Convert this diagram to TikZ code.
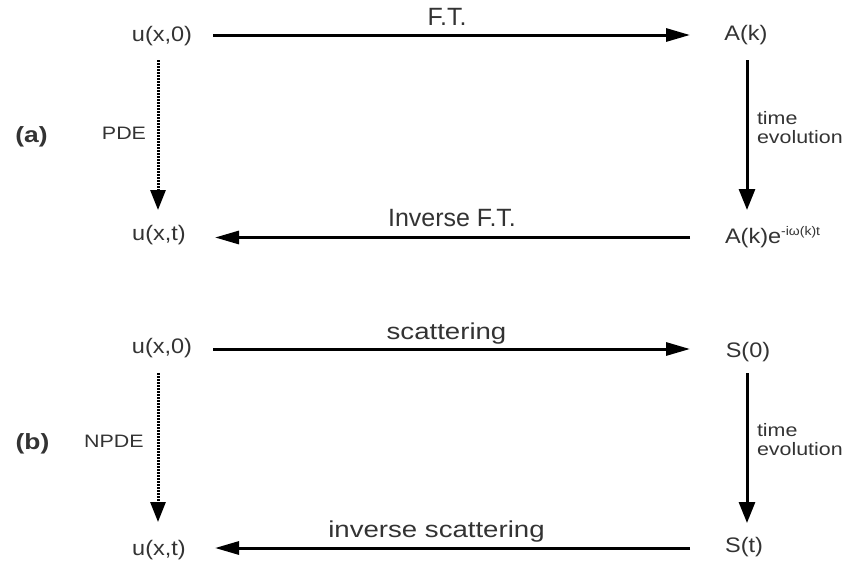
\documentclass[tikz,border=0pt]{standalone}
\usepackage{fontspec}
\setmainfont{Liberation Sans}
\newfontfamily\mainf{Liberation Sans}[FakeStretch=1.12]
\newfontfamily\ftf{Liberation Sans}
\newfontfamily\scf{Liberation Sans}[FakeStretch=1.2]
\newfontfamily\sidef{Liberation Sans}[FakeStretch=1.19]
\newfontfamily\boldf{Liberation Sans}[FakeStretch=1.2]
\usetikzlibrary{arrows.meta}
\definecolor{txt}{HTML}{333333}
\begin{document}
\begin{tikzpicture}[x=1pt,y=-1pt,
  every node/.style={inner sep=0pt,outer sep=0pt,text=txt},
  mainlbl/.style={font=\mainf\fontsize{21}{25}\selectfont},
  ftlbl/.style={font=\ftf\fontsize{25}{30}\selectfont,anchor=base},
  sclbl/.style={font=\scf\fontsize{23}{28}\selectfont,anchor=base},
  sidelbl/.style={font=\sidef\fontsize{18}{19}\selectfont},
  partlbl/.style={font=\boldf\bfseries\fontsize{22}{26}\selectfont},
  harr/.style={line width=3pt,-{Triangle[length=24pt,width=13pt]}},
  varr/.style={line width=3pt,-{Triangle[length=21pt,width=16pt]}},
  dotarr/.style={line width=3pt,dash pattern=on 2pt off 1pt,-{Triangle[length=20pt,width=15pt]}}]
\useasboundingbox (0,0) rectangle (848,562);
% ---------- (a)
\node[mainlbl] (ua0) at (162,36) {u(x,0)};
\node[mainlbl] (Ak) at (746,35) {A(k)};
\node[mainlbl] (uat) at (159,235) {u(x,t)};
\node[mainlbl,anchor=base west] (Ake) at (725,243) {A(k)e\raisebox{8pt}{\fontsize{12.5}{13}\selectfont -iω(k)t}};
\node[ftlbl] (ft) at (447,25) {F.T.};
\node[ftlbl] (ift) at (452,226) {Inverse F.T.};
\node[sidelbl,anchor=base] (pde) at (124,139) {PDE};
\node[sidelbl,anchor=base west] (tea1) at (757,124) {time};
\node[sidelbl,anchor=base west] (tea2) at (757,143) {evolution};
\node[partlbl] (pa) at (31.5,137) {(a)};
\draw[harr] ([shift={(51,-1)}]ua0.center) -- ([shift={(-56,0)}]Ak.center);
\draw[harr] ([shift={(-35,-5.5)}]Ake.base west) -- ([shift={(56,2.5)}]uat.center);
\draw[dotarr] ([shift={(-4,24)}]ua0.center) -- ([shift={(-1,-25)}]uat.center);
\draw[varr] ([shift={(1,25)}]Ak.center) -- ([shift={(22,-33)}]Ake.base west);
% ---------- (b)
\node[mainlbl] (ub0) at (162,348) {u(x,0)};
\node[mainlbl] (S0) at (748,352) {S(0)};
\node[mainlbl] (ubt) at (159,550) {u(x,t)};
\node[mainlbl] (St) at (744,547) {S(t)};
\node[sclbl] (sc) at (446.5,339) {scattering};
\node[sclbl] (isc) at (436.5,537) {inverse scattering};
\node[sidelbl,anchor=base] (npde) at (114,447) {NPDE};
\node[sidelbl,anchor=base west] (teb1) at (757,436) {time};
\node[sidelbl,anchor=base west] (teb2) at (757,455) {evolution};
\node[partlbl] (pb) at (32.5,444) {(b)};
\draw[harr] ([shift={(51,1)}]ub0.center) -- ([shift={(-58,-3)}]S0.center);
\draw[harr] ([shift={(-54,1)}]St.center) -- ([shift={(56,-2)}]ubt.center);
\draw[dotarr] ([shift={(-4,25)}]ub0.center) -- ([shift={(-1,-28)}]ubt.center);
\draw[varr] ([shift={(-1,21)}]S0.center) -- ([shift={(3,-24)}]St.center);
\end{tikzpicture}
\end{document}
